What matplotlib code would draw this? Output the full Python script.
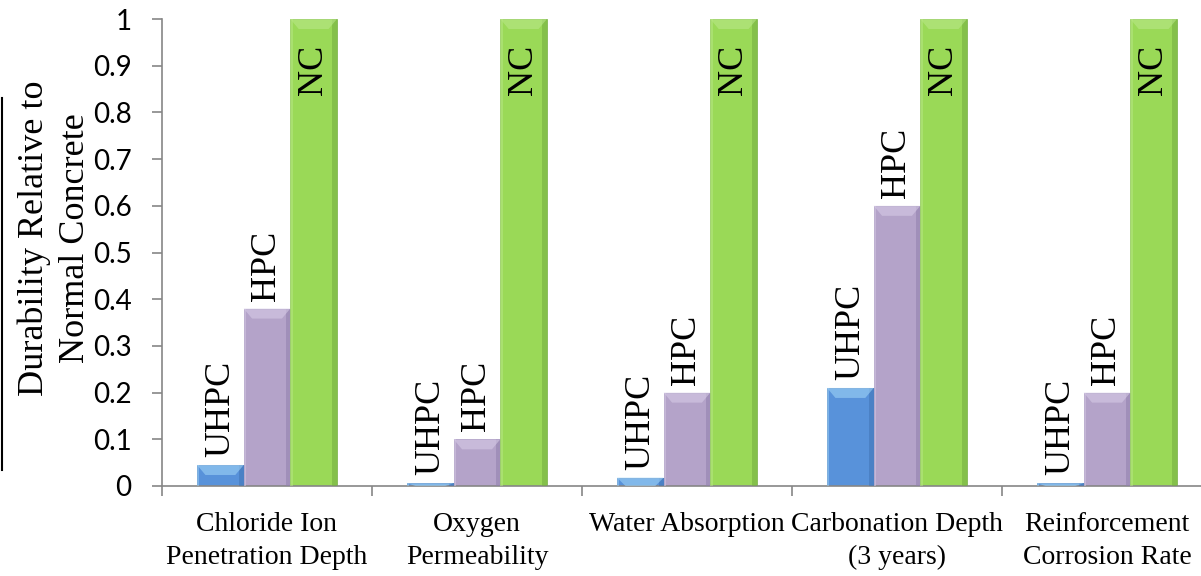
import matplotlib
matplotlib.use("Agg")
import matplotlib.pyplot as plt
from matplotlib.patches import Polygon
from matplotlib.lines import Line2D
import numpy as np

categories = ["Chloride Ion\nPenetration Depth", "Oxygen\nPermeability", "Water Absorption",
              "Carbonation Depth\n(3 years)", "Reinforcement\nCorrosion Rate"]
series_names = ["UHPC", "HPC", "NC"]
uhpc = [0.045, 0.006, 0.018, 0.21, 0.006]
hpc = [0.38, 0.10, 0.20, 0.60, 0.20]
nc = [1.0, 1.0, 1.0, 1.0, 1.0]
yticks = [0, 0.1, 0.2, 0.3, 0.4, 0.5, 0.6, 0.7, 0.8, 0.9, 1]
ytick_labels = ["0", "0.1", "0.2", "0.3", "0.4", "0.5", "0.6", "0.7", "0.8", "0.9", "1"]

base_colors = ["#5892DA", "#B4A3C9", "#9AD957"]
dark_colors = ["#4173B5", "#907FAD", "#72AD40"]
light_colors = ["#9ED2F6", "#D6CBE6", "#B9E888"]

W, H = 1201, 576
fig = plt.figure(figsize=(W / 100, H / 100), dpi=100)
ax = fig.add_axes([162 / W, (576 - 486) / H, (1212 - 162) / W, (486 - 19) / H])

x = np.arange(len(categories))
bw = 0.222
offsets = [-bw, 0, bw]
all_series = [uhpc, hpc, nc]

px_per_unit = 467.0
bevel = 10 / px_per_unit

for si, (vals, off) in enumerate(zip(all_series, offsets)):
    bars = ax.bar(x + off, vals, width=bw, color=base_colors[si],
                  edgecolor=dark_colors[si], linewidth=0.5, zorder=2)
    for rect, v in zip(bars, vals):
        x0 = rect.get_x()
        w = rect.get_width()
        h = rect.get_height()
        # right dark strip
        ax.add_patch(Polygon([(x0 + w * 0.9, 0), (x0 + w, 0), (x0 + w, h), (x0 + w * 0.9, h)],
                             closed=True, facecolor=dark_colors[si], edgecolor="none",
                             alpha=0.55, zorder=3))
        # left light strip
        ax.add_patch(Polygon([(x0, 0), (x0 + w * 0.05, 0), (x0 + w * 0.05, h), (x0, h)],
                             closed=True, facecolor=light_colors[si], edgecolor="none",
                             alpha=0.5, zorder=3))
        # top bevel
        b = min(bevel, h)
        ax.add_patch(Polygon([(x0, h), (x0 + w, h), (x0 + w * 0.82, h - b), (x0 + w * 0.18, h - b)],
                             closed=True, facecolor=light_colors[si], edgecolor="none",
                             alpha=0.6, zorder=3))
        name = series_names[si]
        if v >= 0.95:
            ax.annotate(name, (x0 + w / 2, v), xytext=(0, -26), textcoords="offset pixels",
                        rotation=90, ha="center", va="top", fontsize=26,
                        family="Liberation Serif", zorder=5)
        else:
            ax.annotate(name, (x0 + w / 2, v), xytext=(0, 8), textcoords="offset pixels",
                        rotation=90, ha="center", va="bottom", fontsize=26,
                        family="Liberation Serif", zorder=5)

ax.set_xlim(-0.5, len(categories) - 0.5)
ax.set_ylim(0, 1)

for s in ["top", "right"]:
    ax.spines[s].set_visible(False)
for s in ["left", "bottom"]:
    ax.spines[s].set_color("#868686")
    ax.spines[s].set_linewidth(1.2)

ax.set_yticks(yticks)
ax.set_yticklabels(ytick_labels, fontsize=20, family="Lato")
ax.tick_params(axis="y", length=7, width=1.2, color="#868686", pad=15)

ax.set_xticks(np.arange(len(categories) + 1) - 0.5)
ax.set_xticklabels([])
ax.tick_params(axis="x", which="major", length=7, width=1.2, color="#868686")
ax.set_xticks(x, minor=True)
ax.set_xticklabels(categories, minor=True, fontsize=20, family="Liberation Serif",
                   linespacing=1.4)
ax.tick_params(axis="x", which="minor", length=0, pad=19)

fig.text(55 / W, 1 - 238 / H, "Durability Relative to\nNormal Concrete", rotation=90,
         ha="center", va="center", multialignment="center", fontsize=26,
         linespacing=1.3, family="Liberation Serif")
fig.add_artist(Line2D([1.5 / W, 1.5 / W], [1 - 98 / H, 1 - 470 / H], color="black", lw=1.5))

fig.savefig("out.png", dpi=100)
